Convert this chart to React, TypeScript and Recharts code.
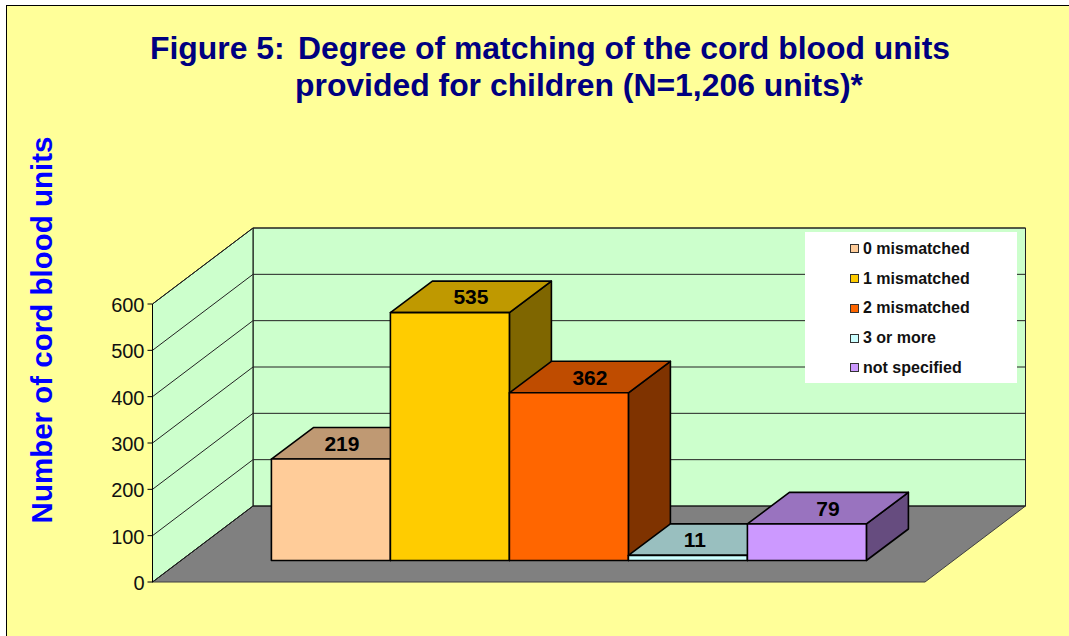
import { BarChart, Bar, XAxis, YAxis, CartesianGrid, ReferenceArea, Legend } from 'recharts';

const categories = ['Units'];
const seriesNames = ['0 mismatched', '1 mismatched', '2 mismatched', '3 or more', 'not specified'];
const seriesValues = [219, 535, 362, 11, 79];
const yTicks = [0, 100, 200, 300, 400, 500, 600];

const frontColors = ['#FFCC99', '#FFCC00', '#FF6600', '#CCFFFF', '#CC99FF'];
const topColors = ['#BF9973', '#BF9900', '#BF4C00', '#99BFBF', '#9973BF'];
const sideColors = ['#7F664C', '#7F6600', '#7F3300', '#668080', '#664C7F'];
// the first and fourth labels sit left of the middle of the top face
const labelNudges = [-10, 0, 0, -14, 0];

const data = categories.map((category) => {
  const row: Record<string, string | number> = { category };
  seriesNames.forEach((name, i) => {
    row[name] = seriesValues[i];
  });
  return row;
});

const FONT = '"Liberation Sans", Arial, sans-serif';

// x axis padding, the floor reaches past it on both sides
const PAD_LEFT = 90.5;
const PAD_RIGHT = 86.5;
// depth of the whole box
const WALL_DX = 100.5;
const WALL_DY = -76;
// bars stand a little way back from the front edge of the floor
const BAR_SHIFT_X = 28.4;
const BAR_SHIFT_Y = -21.5;
// depth of one bar
const BAR_DX = 42;
const BAR_DY = -31.5;

function pts(list: number[][]) {
  return list.map((p) => p.join(',')).join(' ');
}

function WallsAndFloor({ x: paddedX, y, width: paddedWidth, height }: any) {
  const x = paddedX - PAD_LEFT;
  const width = paddedWidth + PAD_LEFT + PAD_RIGHT;
  const bottom = y + height;
  return (
    <g>
      <polygon
        points={pts([[x, bottom], [x + width, bottom], [x + width + WALL_DX, bottom + WALL_DY], [x + WALL_DX, bottom + WALL_DY]])}
        fill="#808080"
        stroke="#404040"
        strokeWidth={1}
      />
      <polygon
        points={pts([[x + WALL_DX, y + WALL_DY], [x + width + WALL_DX, y + WALL_DY], [x + width + WALL_DX, bottom + WALL_DY], [x + WALL_DX, bottom + WALL_DY]])}
        fill="#CCFFCC"
        stroke="#222"
        strokeWidth={1}
      />
      <polygon
        points={pts([[x, bottom], [x, y], [x + WALL_DX, y + WALL_DY], [x + WALL_DX, bottom + WALL_DY]])}
        fill="#CCFFCC"
        stroke="#000"
        strokeWidth={1}
      />
    </g>
  );
}

function GridLine({ x1, y1, x2, y2, key }: any) {
  return (
    <polyline
      key={key}
      points={pts([[x1, y1], [x1 + WALL_DX, y1 + WALL_DY], [x2 + WALL_DX, y2 + WALL_DY]])}
      fill="none"
      stroke="#222"
      strokeWidth={1}
    />
  );
}

function makeBox(i: number) {
  return function Box({ x, y, width, height }: any) {
    const left = x + BAR_SHIFT_X;
    const right = left + width;
    const top = y + BAR_SHIFT_Y;
    const bottom = top + height;
    const line = { stroke: '#000', strokeWidth: 1.6, strokeLinejoin: 'round' as const };
    return (
      <g>
        <polygon points={pts([[right, top], [right + BAR_DX, top + BAR_DY], [right + BAR_DX, bottom + BAR_DY], [right, bottom]])} fill={sideColors[i]} {...line} />
        <polygon points={pts([[left, top], [left + BAR_DX, top + BAR_DY], [right + BAR_DX, top + BAR_DY], [right, top]])} fill={topColors[i]} {...line} />
        <rect x={left} y={top} width={width} height={height} fill={frontColors[i]} {...line} />
      </g>
    );
  };
}

function makeTopLabel(i: number) {
  return function TopLabel({ x, y, width, value }: any) {
    return (
      <text
        x={x + BAR_SHIFT_X + width / 2 + BAR_DX / 2 + labelNudges[i]}
        y={y + BAR_SHIFT_Y + BAR_DY / 2 + 7.5}
        textAnchor="middle"
        fontFamily={FONT}
        fontWeight="bold"
        fontSize={21}
        fill="#000"
      >
        {value}
      </text>
    );
  };
}

function LegendBox({ payload }: any) {
  return (
    <div style={{ width: 212, height: 151, background: '#fff', fontFamily: FONT, paddingTop: 2, boxSizing: 'border-box' }}>
      {(payload || []).map((item: any) => (
        <div key={item.value} style={{ height: 29.75, display: 'flex', alignItems: 'center', paddingLeft: 45 }}>
          <span style={{ width: 7, height: 7, border: '1px solid #333', background: item.color, marginRight: 4 }} />
          <span style={{ fontSize: 16, fontWeight: 'bold', color: '#111' }}>{item.value}</span>
        </div>
      ))}
    </div>
  );
}

export default function App() {
  return (
    <div style={{ position: 'fixed', left: 0, top: 0, width: 1069, height: 636, overflow: 'hidden', background: '#fff' }}>
      <div style={{ position: 'absolute', left: 6, top: 5, width: 1100, height: 700, background: '#FFFF99', borderLeft: '1px solid #000', borderTop: '1px solid #000' }} />
      <div style={{ position: 'absolute', left: 0, top: 0 }}>
        <BarChart
          width={1069}
          height={636}
          data={data}
          margin={{ left: 102.5, top: 304, right: 144, bottom: 54 }}
          barCategoryGap={0}
          barGap={0}
        >
          <ReferenceArea y1={0} y2={600} shape={WallsAndFloor} ifOverflow="visible" zIndex={50} />
          <CartesianGrid vertical={false} horizontal={GridLine} zIndex={60} />
          <XAxis dataKey="category" hide padding={{ left: PAD_LEFT, right: PAD_RIGHT }} />
          <YAxis
            width={50}
            domain={[0, 600]}
            ticks={yTicks}
            interval={0}
            tickSize={5}
            tickMargin={2}
            stroke="#000"
            tick={{ fill: '#111', fontSize: 20, fontFamily: FONT, dy: 1, dx: -1 }}
            label={{
              value: 'Number of cord blood units',
              angle: -90,
              position: 'center',
              dx: -86,
              dy: -113,
              fill: '#0000FF',
              fontSize: 29.5,
              fontWeight: 'bold',
              fontFamily: FONT,
            }}
          />
          <Legend
            layout="vertical"
            align="center"
            verticalAlign="middle"
            content={LegendBox}
            wrapperStyle={{ left: 805, top: 232, width: 212 }}
          />
          {seriesNames.map((name, i) => (
            <Bar
              key={name}
              dataKey={name}
              name={name}
              fill={frontColors[i]}
              shape={makeBox(i)}
              label={makeTopLabel(i)}
              isAnimationActive={false}
            />
          ))}
          <g fontFamily={FONT} fontWeight="bold" fontSize={31.9} fill="#000080">
            <text x={150} y={59}>Figure 5:</text>
            <text x={298} y={59}>Degree of matching of the cord blood units</text>
            <text x={295} y={96}>provided for children (N=1,206 units)*</text>
          </g>
        </BarChart>
      </div>
    </div>
  );
}
